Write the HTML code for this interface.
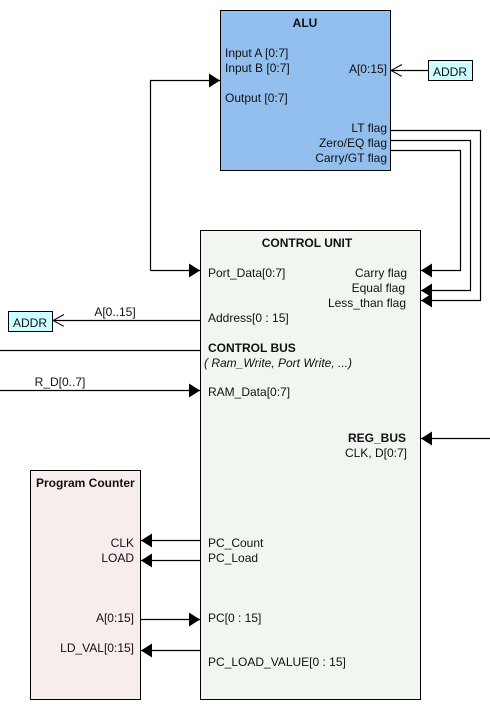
<!DOCTYPE html>
<html><head><style>
body{margin:0;background:#fff}
svg text{font-family:"Liberation Sans",sans-serif;font-size:12px;fill:#111}
.b{font-weight:bold}
</style></head><body>
<svg width="490" height="710" viewBox="0 0 490 710" xmlns="http://www.w3.org/2000/svg">
<defs>
<marker id="f" markerWidth="12" markerHeight="14" refX="11" refY="7" orient="auto" markerUnits="userSpaceOnUse"><path d="M0,0 L11,7 L0,14 Z" fill="#000"/></marker>
<marker id="o" markerWidth="12" markerHeight="14" refX="11" refY="6" orient="auto" markerUnits="userSpaceOnUse"><path d="M0,0 L11,6 L0,12" fill="none" stroke="#000" stroke-width="1"/></marker>
</defs>
<rect x="220.5" y="10.5" width="170" height="160" fill="#93bfee" stroke="#000"/>
<rect x="200.5" y="230.5" width="220" height="469" fill="#f1f7f0" stroke="#000"/>
<rect x="30.5" y="470.5" width="110" height="229" fill="#f7eded" stroke="#000"/>
<rect x="428.5" y="60.5" width="44" height="20" fill="#ccffff" stroke="#000"/>
<rect x="8.5" y="311.5" width="44" height="20" fill="#ccffff" stroke="#000"/>
<text x="450" y="76" text-anchor="middle">ADDR</text>
<text x="30" y="327" text-anchor="middle">ADDR</text>
<g fill="none" stroke="#000" stroke-width="1.2">
<path d="M428,70.5 H391" marker-end="url(#o)"/>
<path d="M200,320.5 H53" marker-end="url(#o)"/>
<path d="M150.5,270.5 V80.5 H220" marker-end="url(#f)"/>
<path d="M150.5,270.5 H200" marker-end="url(#f)"/>
<path d="M390,130.5 H480.5 V300.5 H421" marker-end="url(#f)"/>
<path d="M390,140.5 H470.5 V290.5 H421" marker-end="url(#f)"/>
<path d="M390,150.5 H460.5 V270.5 H421" marker-end="url(#f)"/>
<path d="M0,350.5 H200"/>
<path d="M0,390.5 H200" marker-end="url(#f)"/>
<path d="M490,438.5 H421" marker-end="url(#f)"/>
<path d="M200,540.5 H141" marker-end="url(#f)"/>
<path d="M200,560.5 H141" marker-end="url(#f)"/>
<path d="M141,619.5 H200" marker-end="url(#f)"/>
<path d="M200,650.5 H141" marker-end="url(#f)"/>
</g>
<text x="305" y="27" text-anchor="middle" class="b">ALU</text>
<text x="225" y="57">Input A [0:7]</text>
<text x="225" y="72">Input B [0:7]</text>
<text x="225" y="102">Output [0:7]</text>
<text x="387" y="73" text-anchor="end">A[0:15]</text>
<text x="387" y="132" text-anchor="end">LT flag</text>
<text x="387" y="147" text-anchor="end">Zero/EQ flag</text>
<text x="387" y="162" text-anchor="end">Carry/GT flag</text>
<text x="307" y="247" text-anchor="middle" class="b">CONTROL UNIT</text>
<text x="208" y="277">Port_Data[0:7]</text>
<text x="407" y="277" text-anchor="end">Carry flag</text>
<text x="405" y="292" text-anchor="end">Equal flag</text>
<text x="406" y="307" text-anchor="end">Less_than flag</text>
<text x="208" y="322">Address[0 : 15]</text>
<text x="115" y="316" text-anchor="middle">A[0..15]</text>
<text x="208" y="352" class="b">CONTROL BUS</text>
<text x="204" y="367" font-style="italic">( Ram_Write, Port Write, ...)</text>
<text x="60" y="386" text-anchor="middle">R_D[0..7]</text>
<text x="208" y="396">RAM_Data[0:7]</text>
<text x="406" y="442" text-anchor="end" class="b">REG_BUS</text>
<text x="407" y="457" text-anchor="end">CLK, D[0:7]</text>
<text x="36" y="487" class="b">Program Counter</text>
<text x="134" y="547" text-anchor="end">CLK</text>
<text x="134" y="562" text-anchor="end">LOAD</text>
<text x="134" y="622" text-anchor="end">A[0:15]</text>
<text x="134" y="652" text-anchor="end">LD_VAL[0:15]</text>
<text x="208" y="547">PC_Count</text>
<text x="208" y="562">PC_Load</text>
<text x="208" y="622">PC[0 : 15]</text>
<text x="208" y="666">PC_LOAD_VALUE[0 : 15]</text>
</svg>
</body></html>
